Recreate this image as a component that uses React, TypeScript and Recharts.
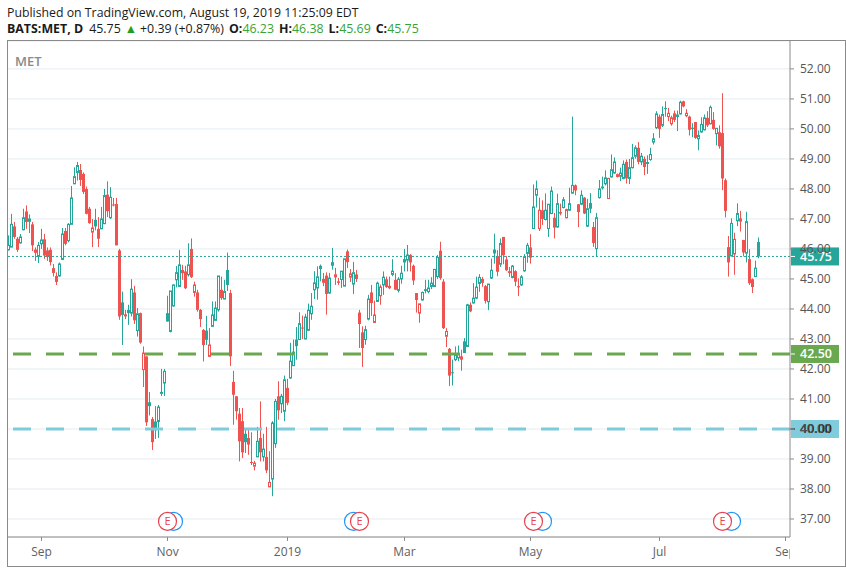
import React from "react";
import {
  ComposedChart,
  Bar,
  XAxis,
  YAxis,
  CartesianGrid,
  ReferenceLine,
  ReferenceDot,
} from "recharts";

// daily BATS:MET candles, Aug 2018 - Aug 19 2019
const opens = [
  45.97, 46.06, 46.75, 46.34, 46.2, 46.64, 47.25, 46.92, 46.82, 45.98,
  45.75, 46.17, 46.32, 45.95, 45.97, 45.36, 45.1, 45.1, 45.65, 46.6,
  46.28, 46.82, 48.17, 48.55, 48.63, 48.5, 48.0, 47.34, 46.56, 46.97,
  46.67, 46.67, 46.84, 47.81, 47.04, 47.48, 47.5, 45.95, 44.22, 43.82,
  43.97, 43.86, 44.55, 43.28, 43.86, 41.98, 42.42, 40.89, 40.33, 40.25,
  40.25, 41.2, 41.53, 43.86, 43.25, 44.1, 44.97, 44.75, 45.3, 45.25,
  45.14, 46.0, 44.55, 44.55, 43.97, 43.3, 43.28, 42.42, 43.42, 43.62,
  43.97, 44.64, 44.33, 45.3, 44.53, 41.57, 41.09, 40.51, 40.26, 39.84,
  39.7, 38.9, 38.76, 39.07, 39.7, 39.07, 39.07, 38.07, 38.33, 39.51,
  41.09, 40.84, 40.59, 41.37, 41.7, 42.11, 42.98, 42.98, 43.38, 43.0,
  43.29, 43.84, 44.64, 44.7, 45.44, 45.0, 45.11, 44.53, 45.56, 45.07,
  44.92, 44.98, 44.76, 45.92, 45.06, 44.83, 45.15, 43.88, 43.22, 42.98,
  43.66, 44.55, 43.55, 44.25, 44.44, 44.8, 44.99, 44.77, 45.15, 44.97,
  44.62, 45.0, 45.66, 45.63, 45.8, 45.44, 44.53, 43.86, 44.3, 44.66,
  44.58, 44.75, 44.75, 45.08, 45.94, 44.91, 43.09, 42.67, 41.89, 42.31,
  42.37, 42.42, 42.92, 42.75, 44.14, 44.2, 44.36, 44.85, 45.0, 44.76,
  44.24, 45.03, 45.98, 45.76, 45.49, 46.4, 45.65, 45.26, 45.05, 45.26,
  44.76, 44.8, 45.27, 45.85, 46.05, 46.68, 47.79, 46.68, 47.29, 46.98,
  46.68, 47.18, 47.04, 46.73, 47.23, 47.38, 47.04, 47.29, 47.86, 48.12,
  47.49, 47.49, 47.71, 46.76, 47.53, 46.73, 46.01, 47.71, 48.08, 48.17,
  47.68, 48.4, 48.53, 48.49, 48.42, 48.35, 48.9, 48.35, 48.71, 49.09,
  49.37, 48.9, 49.0, 48.87, 48.98, 49.56, 50.04, 50.41, 50.12, 50.7,
  50.41, 50.17, 50.52, 50.48, 50.5, 50.92, 50.44, 50.41, 50.04, 50.23,
  49.67, 49.9, 49.97, 50.37, 50.17, 50.3, 49.84, 49.89, 49.86, 48.29,
  46.06, 45.77, 45.83, 46.94, 47.02, 46.3, 45.86, 45.66, 44.99, 45.08, 46.23,
];

const highs = [
  46.45, 47.17, 46.9, 46.4, 46.5, 47.34, 47.45, 47.15, 46.9, 46.05,
  46.23, 46.67, 46.5, 46.05, 46.05, 45.5, 45.22, 45.55, 46.7, 46.7,
  46.86, 48.1, 48.72, 48.9, 48.83, 48.55, 48.08, 47.4, 47.0, 47.34,
  47.06, 47.4, 48.0, 48.25, 48.06, 47.7, 47.7, 46.0, 44.58, 43.97,
  44.14, 44.99, 44.77, 44.03, 43.88, 42.75, 42.42, 41.23, 40.4, 40.76,
  40.8, 42.0, 42.0, 44.44, 44.6, 44.82, 45.43, 45.97, 45.47, 45.44,
  46.19, 46.35, 44.91, 44.64, 44.0, 43.33, 43.77, 43.36, 44.25, 44.25,
  45.1, 45.08, 44.97, 45.88, 44.64, 41.94, 41.09, 40.7, 40.7, 40.03,
  40.03, 39.89, 38.94, 40.07, 40.92, 39.84, 40.07, 39.26, 40.26, 41.0,
  41.59, 41.17, 41.78, 41.67, 42.87, 42.98, 43.4, 43.89, 43.78, 43.84,
  44.18, 44.53, 45.26, 45.42, 45.48, 45.2, 45.22, 45.2, 46.03, 45.37,
  45.03, 45.26, 45.67, 45.98, 45.33, 45.57, 45.3, 43.97, 43.42, 43.44,
  44.47, 44.8, 44.28, 44.91, 44.81, 45.25, 45.08, 45.08, 45.66, 45.19,
  45.06, 45.44, 46.0, 46.13, 45.83, 45.48, 44.53, 44.17, 44.58, 44.97,
  44.97, 45.06, 45.32, 45.8, 46.24, 44.99, 43.36, 42.7, 42.31, 42.75,
  42.78, 42.64, 43.03, 44.17, 44.22, 44.86, 45.08, 45.16, 45.07, 44.8,
  44.83, 45.68, 46.51, 45.96, 46.35, 46.4, 45.76, 45.4, 45.46, 45.29,
  45.02, 45.13, 45.83, 46.2, 46.49, 48.15, 48.28, 47.71, 47.62, 47.85,
  47.49, 48.08, 47.2, 47.84, 47.51, 47.73, 47.34, 48.04, 50.41, 48.15,
  47.49, 47.95, 47.73, 47.67, 47.86, 46.9, 47.2, 48.3, 48.41, 48.62,
  48.37, 49.15, 49.05, 48.51, 48.71, 48.95, 48.98, 49.0, 49.5, 49.45,
  49.56, 49.2, 49.08, 49.12, 49.37, 49.86, 50.59, 50.48, 50.75, 50.92,
  50.7, 50.44, 50.61, 50.61, 50.94, 50.94, 50.66, 50.44, 50.19, 50.23,
  49.95, 50.39, 50.48, 50.59, 50.78, 50.56, 50.0, 50.12, 51.19, 48.35,
  46.43, 47.02, 46.54, 47.52, 47.27, 46.3, 47.24, 45.99, 45.02, 45.61, 46.38,
];

const lows = [
  45.95, 46.06, 46.34, 45.9, 46.18, 46.62, 46.67, 46.53, 45.93, 45.6,
  45.53, 46.0, 45.67, 45.6, 45.45, 45.08, 44.8, 45.08, 45.65, 46.12,
  46.22, 46.82, 48.17, 48.28, 48.1, 47.83, 47.15, 46.84, 46.06, 46.62,
  46.06, 46.67, 46.84, 47.06, 47.0, 47.42, 46.12, 43.64, 42.8, 43.66,
  43.47, 43.75, 43.5, 43.08, 42.84, 41.4, 40.1, 40.45, 39.3, 39.67,
  39.7, 41.1, 41.1, 43.58, 43.22, 44.08, 44.72, 44.73, 44.97, 44.66,
  45.08, 45.03, 44.41, 43.91, 43.4, 42.25, 42.8, 42.42, 43.42, 43.62,
  43.91, 44.3, 44.33, 44.6, 42.1, 40.14, 40.31, 38.92, 39.03, 39.2,
  39.14, 38.8, 38.62, 39.07, 38.92, 38.92, 38.53, 38.07, 37.76, 39.37,
  40.31, 40.53, 40.26, 40.79, 41.67, 42.11, 42.31, 42.98, 43.0, 43.0,
  43.26, 43.64, 44.33, 44.31, 44.92, 44.76, 43.81, 44.51, 45.31, 44.8,
  44.8, 44.7, 44.76, 45.36, 44.9, 44.5, 44.9, 42.7, 42.07, 42.81,
  43.62, 43.77, 43.55, 44.25, 44.14, 44.47, 44.7, 44.66, 45.09, 44.64,
  44.55, 44.84, 45.25, 45.25, 45.25, 44.8, 43.88, 43.54, 44.28, 44.52,
  44.52, 44.66, 44.73, 45.0, 44.97, 43.33, 42.73, 41.43, 41.45, 42.26,
  42.26, 41.94, 42.53, 42.75, 43.89, 44.18, 44.33, 44.57, 44.74, 44.18,
  43.96, 45.0, 45.51, 45.09, 45.4, 45.49, 45.27, 45.07, 45.02, 44.76,
  44.43, 44.77, 45.24, 45.54, 45.51, 46.68, 47.38, 46.6, 46.8, 46.95,
  46.4, 47.16, 46.35, 46.71, 47.12, 47.35, 47.02, 47.27, 47.84, 47.79,
  46.73, 47.46, 47.16, 46.73, 47.19, 46.07, 45.74, 47.68, 47.98, 48.12,
  47.68, 48.38, 48.51, 48.38, 48.26, 48.32, 48.18, 48.16, 48.68, 49.01,
  48.82, 48.79, 48.46, 48.5, 48.94, 49.48, 50.0, 49.7, 50.06, 50.41,
  50.26, 50.11, 50.23, 49.93, 50.48, 50.72, 50.39, 49.78, 49.72, 49.67,
  49.29, 49.87, 49.95, 50.06, 50.15, 49.97, 49.45, 49.34, 47.96, 47.05,
  45.08, 45.75, 45.14, 46.76, 46.58, 45.75, 45.55, 44.8, 44.53, 45.06, 45.69,
];

const closes = [
  46.12, 46.82, 46.4, 45.97, 46.4, 47.04, 46.9, 47.0, 46.12, 45.87,
  46.12, 46.3, 45.78, 45.73, 45.56, 45.2, 44.9, 45.5, 46.5, 46.17,
  46.82, 47.7, 48.41, 48.78, 48.3, 47.9, 47.17, 46.86, 46.7, 46.75,
  46.34, 47.0, 47.78, 47.26, 47.72, 47.45, 46.12, 43.75, 43.8, 43.75,
  43.86, 44.66, 43.62, 43.84, 42.88, 42.53, 40.22, 40.76, 39.56, 39.96,
  40.73, 41.22, 41.92, 43.58, 44.6, 44.8, 45.21, 45.47, 45.19, 44.69,
  45.47, 45.06, 44.8, 43.97, 43.66, 42.8, 42.97, 42.8, 43.8, 44.03,
  45.1, 44.36, 44.58, 44.8, 42.42, 41.14, 40.59, 39.59, 39.22, 39.56,
  39.48, 38.87, 38.86, 39.59, 39.22, 39.33, 38.62, 38.22, 40.2, 40.92,
  40.62, 41.09, 41.64, 40.87, 42.26, 42.56, 42.76, 43.51, 43.36, 43.73,
  43.96, 44.09, 44.87, 45.07, 45.33, 44.87, 44.5, 45.03, 45.44, 45.14,
  44.87, 45.26, 45.67, 45.56, 45.17, 45.21, 45.0, 43.5, 42.7, 43.31,
  44.33, 44.2, 43.8, 44.86, 44.73, 45.06, 44.73, 44.69, 45.26, 44.64,
  44.99, 45.19, 45.55, 45.8, 45.55, 44.95, 44.3, 44.17, 44.55, 44.6,
  44.7, 44.86, 45.32, 45.72, 45.03, 43.36, 43.25, 41.78, 41.87, 42.48,
  42.5, 42.31, 42.53, 44.14, 43.92, 44.36, 44.73, 45.05, 44.87, 44.27,
  44.83, 45.29, 45.85, 45.24, 46.18, 45.79, 45.29, 45.2, 45.43, 44.91,
  44.72, 45.07, 45.74, 46.12, 45.71, 47.4, 48.0, 47.29, 47.0, 47.29,
  47.49, 47.93, 46.71, 47.51, 47.18, 47.64, 47.31, 47.51, 48.12, 47.95,
  47.23, 47.79, 47.18, 47.34, 47.34, 46.2, 47.04, 48.0, 48.02, 48.37,
  48.35, 48.64, 48.9, 48.4, 48.53, 48.82, 48.35, 48.71, 49.04, 49.37,
  48.9, 49.09, 48.73, 48.88, 49.15, 49.67, 50.5, 50.0, 50.48, 50.67,
  50.52, 50.37, 50.3, 50.4, 50.89, 50.75, 50.52, 49.97, 50.0, 49.7,
  49.78, 50.15, 50.37, 50.12, 50.72, 50.0, 50.02, 49.42, 48.35, 47.27,
  45.55, 46.85, 46.32, 47.18, 46.91, 45.88, 46.91, 44.86, 44.73, 45.36, 45.75,
];

// time axis: bar index of each month label
const monthTickIdx = [11, 53, 93, 132, 174, 217, 259];
const monthLabels = ["Sep", "Nov", "2019", "Mar", "May", "Jul", "Sep"];
const priceTicks = [37, 38, 39, 40, 41, 42, 43, 44, 45, 46, 47, 48, 49, 50, 51, 52];

// event markers at the foot of the chart
const earningsIdx = [53, 117, 175, 238];
const dividendIdx = [55, 115, 178, 241];
const MARKER_PRICE = 36.92;

const lastPrice = 45.75;
const levelGreen = 42.5;
const levelBlue = 40.0;

const UP = "#26a69a";
const DOWN = "#ef5350";
const FONT = "'Open Sans', sans-serif";
const PLOT_RIGHT = 790;

const candles = opens.map((o, i) => ({
  i,
  open: o,
  high: Math.max(highs[i], o, closes[i]),
  low: Math.min(lows[i], o, closes[i]),
  close: closes[i],
  prev: i > 0 ? closes[i - 1] : o,
}));

function Candle(props: any) {
  const { x, y, width, height, payload } = props;
  if (!payload) return null;
  const { open, high, low, close, prev } = payload;
  const top0 = Math.min(y, y + height);
  const h = Math.abs(height);
  const span = high - low || 1;
  const py = (v: number) => top0 + ((high - v) / span) * h;
  const cx = Math.round(x + width / 2) + 0.5;
  const color = close >= prev ? UP : DOWN;
  const hollow = close > open;
  const bTop = py(Math.max(open, close));
  const bBot = Math.max(py(Math.min(open, close)), bTop + 1);

  if (hollow) {
    return (
      <g>
        <line x1={cx} x2={cx} y1={py(high)} y2={bTop} stroke={color} strokeWidth={1} />
        <line x1={cx} x2={cx} y1={bBot} y2={py(low)} stroke={color} strokeWidth={1} />
        <rect x={cx - 1} y={bTop} width={2} height={bBot - bTop} fill="#fff" stroke={color} strokeWidth={1} />
      </g>
    );
  }
  return (
    <g>
      <line x1={cx} x2={cx} y1={py(high)} y2={py(low)} stroke={color} strokeWidth={1} />
      <rect x={cx - 1.5} y={bTop} width={3} height={bBot - bTop} fill={color} />
    </g>
  );
}

function PriceTag(props: any) {
  const { viewBox, text, bg, fg } = props;
  if (!viewBox) return null;
  const yMid = viewBox.y;
  return (
    <g>
      <rect x={PLOT_RIGHT + 1} y={yMid - 9} width={48} height={18} fill={bg} />
      <line x1={PLOT_RIGHT} x2={PLOT_RIGHT + 5} y1={yMid} y2={yMid} stroke={fg} />
      <text
        x={PLOT_RIGHT + 10}
        y={yMid}
        dy="0.36em"
        fill={fg}
        fontSize={12.5}
        fontWeight={600}
        fontFamily={FONT}
      >
        {text}
      </text>
    </g>
  );
}

function TimeTick(props: any) {
  const { x, y, payload } = props;
  const k = monthTickIdx.indexOf(payload.value);
  const label = k >= 0 ? monthLabels[k] : "";
  const txt = (
    <text
      x={x}
      y={y}
      dy="0.71em"
      textAnchor="middle"
      fill="#606060"
      fontSize={12}
      fontFamily={FONT}
    >
      {label}
    </text>
  );
  if (x + 12 < PLOT_RIGHT) return txt;
  // last label is cut by the price scale
  return (
    <svg x={0} y={y - 4} width={PLOT_RIGHT} height={24}>
      <g transform={`translate(0, ${4 - y})`}>{txt}</g>
    </svg>
  );
}

function EventMark(props: any) {
  const { cx, cy, color, letter } = props;
  return (
    <g>
      <circle cx={cx} cy={cy} r={9} fill="#fff" stroke={color} strokeWidth={1.2} />
      {letter ? (
        <text
          x={cx}
          y={cy}
          dy="0.36em"
          textAnchor="middle"
          fill={color}
          fontSize={11}
          fontFamily={FONT}
        >
          {letter}
        </text>
      ) : null}
    </g>
  );
}

export default function App() {
  const green = "#36a336";
  return (
    <div
      style={{
        position: "absolute",
        left: 0,
        top: 0,
        width: 846,
        height: 572,
        background: "#fff",
        fontFamily: FONT,
        color: "#1a1a1a",
      }}
    >
      <div style={{ position: "absolute", left: 7, top: 4, fontSize: 12.3, whiteSpace: "nowrap" }}>
        Published on TradingView.com, August 19, 2019 11:25:09 EDT
      </div>
      <div style={{ position: "absolute", left: 7, top: 20, fontSize: 12.4, whiteSpace: "nowrap" }}>
        <b>BATS:MET, D</b>
        <span style={{ marginLeft: 6 }}>45.75</span>
        <span style={{ marginLeft: 4, color: "#1f9e1f" }}>▲</span>
        <span style={{ marginLeft: 3 }}>+0.39 (+0.87%)</span>
        <b style={{ marginLeft: 5 }}>O:</b>
        <span style={{ color: green }}>46.23</span>
        <b style={{ marginLeft: 5 }}>H:</b>
        <span style={{ color: green }}>46.38</span>
        <b style={{ marginLeft: 5 }}>L:</b>
        <span style={{ color: green }}>45.69</span>
        <b style={{ marginLeft: 5 }}>C:</b>
        <span style={{ color: green }}>45.75</span>
      </div>

      <div style={{ position: "absolute", left: 0, top: 0 }}>
        <ComposedChart
          width={846}
          height={572}
          data={candles}
          margin={{ top: 41, right: 1, bottom: 6, left: 7 }}
        >
          <CartesianGrid stroke="#e3ecf1" vertical={false} />
          <XAxis
            dataKey="i"
            type="number"
            domain={[-0.5, 260.5]}
            ticks={monthTickIdx}
            interval={0}
            allowDataOverflow
            height={29}
            stroke="#8a8a8a"
            tickSize={4}
            tickMargin={6}
            tick={<TimeTick />}
          />
          <YAxis
            orientation="right"
            type="number"
            domain={[36.4, 52.93]}
            ticks={priceTicks}
            interval={0}
            allowDataOverflow
            width={55}
            stroke="#8a8a8a"
            tickSize={4}
            tickMargin={6}
            tickFormatter={(v: number) => v.toFixed(2)}
            tick={{ fill: "#555", fontSize: 12, fontFamily: FONT }}
          />
          <ReferenceLine
            y={levelGreen}
            stroke="#6aa84f"
            strokeWidth={3}
            strokeDasharray="18 15"
            label={<PriceTag text="42.50" bg="#6aa84f" fg="#fff" />}
          />
          <ReferenceLine
            y={levelBlue}
            stroke="#7ecbdb"
            strokeWidth={3}
            strokeDasharray="18 15"
            label={<PriceTag text="40.00" bg="#80cbdc" fg="#1a1a1a" />}
          />
          <Bar
            dataKey={(d: any) => [d.low, d.high]}
            barSize={3}
            shape={<Candle />}
            isAnimationActive={false}
          />
          <ReferenceLine
            y={lastPrice}
            stroke={UP}
            strokeWidth={1}
            strokeDasharray="2 2"
            label={<PriceTag text="45.75" bg={UP} fg="#fff" />}
          />
          {dividendIdx.map((d) => (
            <ReferenceDot
              key={"d" + d}
              x={d}
              y={MARKER_PRICE}
              shape={<EventMark color="#2196f3" />}
            />
          ))}
          {earningsIdx.map((e) => (
            <ReferenceDot
              key={"e" + e}
              x={e}
              y={MARKER_PRICE}
              shape={<EventMark color="#e5434f" letter="E" />}
            />
          ))}
        </ComposedChart>
      </div>

      <div
        style={{
          position: "absolute",
          left: 7,
          top: 40,
          width: 837,
          height: 525,
          border: "1px solid #8a8a8a",
          pointerEvents: "none",
        }}
      />
      <div
        style={{
          position: "absolute",
          left: 15,
          top: 52,
          fontSize: 13,
          fontWeight: 600,
          color: "#8a8a8a",
        }}
      >
        MET
      </div>
    </div>
  );
}
